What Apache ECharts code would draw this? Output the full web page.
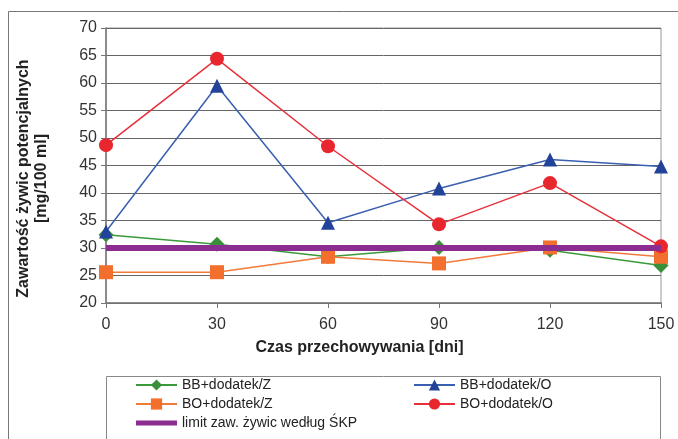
<!DOCTYPE html>
<html><head><meta charset="utf-8">
<script src="https://cdn.jsdelivr.net/npm/echarts@6/dist/echarts.min.js"></script>
<style>html,body{margin:0;padding:0;background:#fff}#c{width:678px;height:439px}</style>
</head><body><div id="c"></div>
<script>
var days = [0, 30, 60, 90, 120, 150];
var bbZ = [32.4, 30.7, 28.4, 30.1, 29.6, 26.8];
var bbO = [33.0, 59.5, 34.6, 40.8, 46.1, 44.8];
var boZ = [25.6, 25.6, 28.4, 27.2, 30.1, 28.4];
var boO = [48.7, 64.4, 48.5, 34.3, 41.8, 30.3];
var limitX = [0, 150];
var limitY = [30, 30];
var names = ['BB+dodatek/Z', 'BB+dodatek/O', 'BO+dodatek/Z', 'BO+dodatek/O', 'limit zaw. żywic według ŚKP'];
var yTicks = {min: 20, max: 70, step: 5};
var xTicks = {min: 0, max: 150, step: 30};

function pairs(xs, ys){ return xs.map(function(x,i){return [x, ys[i]];}); }

var font = 'Liberation Sans, Arial, sans-serif';
var chart = echarts.init(document.getElementById('c'));
var legText = {fontFamily: font, fontSize: 14, color: '#222'};
chart.setOption({
  animation: false,
  backgroundColor: '#fff',
  graphic: [
    {type: 'rect', shape: {x: 8.5, y: 11.5, width: 700, height: 460}, style: {fill: 'none', stroke: '#777', lineWidth: 1}, z: -10},
    {type: 'rect', shape: {x: 106.5, y: 376.5, width: 554, height: 100}, style: {fill: 'none', stroke: '#888', lineWidth: 1}, z: -9}
  ],
  grid: {left: 106, right: 17, top: 28, bottom: 136, show: true, borderColor: '#999', borderWidth: 1, backgroundColor: '#fff'},
  legend: [
    {orient: 'vertical', left: 135, top: 378, padding: 0, itemWidth: 41, itemHeight: 14, itemGap: 5, textStyle: legText,
     data: [names[0], names[2], {name: names[4], icon: 'path://M0,0H41V5H0Z'}]},
    {orient: 'vertical', left: 413, top: 378, padding: 0, itemWidth: 41, itemHeight: 14, itemGap: 5, textStyle: legText,
     data: [names[1], names[3]]}
  ],
  xAxis: {
    type: 'value', min: xTicks.min, max: xTicks.max, interval: xTicks.step,
    name: 'Czas przechowywania [dni]', nameLocation: 'middle', nameGap: 37,
    nameTextStyle: {fontFamily: font, fontSize: 16, fontWeight: 'bold', color: '#222', padding: [0, 48, 0, 0]},
    axisLine: {show: true, lineStyle: {color: '#777', width: 1.5}},
    axisTick: {show: true, length: 5, lineStyle: {color: '#777'}},
    axisLabel: {fontFamily: font, fontSize: 16, color: '#333', margin: 14},
    splitLine: {show: false}
  },
  yAxis: {
    type: 'value', min: yTicks.min, max: yTicks.max, interval: yTicks.step,
    name: 'Zawartość żywic potencjalnych\n[mg/100 ml]', nameLocation: 'middle', nameGap: 55,
    nameTextStyle: {fontFamily: font, fontSize: 16, fontWeight: 'bold', color: '#222', lineHeight: 18, padding: [0, 26, 0, 0]},
    axisLine: {show: true, lineStyle: {color: '#777', width: 1.5}},
    axisTick: {show: true, length: 5, lineStyle: {color: '#777'}},
    axisLabel: {fontFamily: font, fontSize: 16, color: '#333', margin: 9},
    splitLine: {show: true, lineStyle: {color: '#666', width: 1}}
  },
  series: [
    {name: names[0], type: 'line', data: pairs(days, bbZ), symbol: 'diamond', symbolSize: 15,
     lineStyle: {color: '#3a9a3a', width: 1.5}, itemStyle: {color: '#3a8f3a'}, z: 3},
    {name: names[1], type: 'line', data: pairs(days, bbO), symbol: 'triangle', symbolSize: 14,
     lineStyle: {color: '#3a5fb0', width: 1.5}, itemStyle: {color: '#23429a'}, z: 3},
    {name: names[2], type: 'line', data: pairs(days, boZ), symbol: 'rect', symbolSize: 14,
     lineStyle: {color: '#f07a3a', width: 1.5}, itemStyle: {color: '#f26f2e'}, z: 4},
    {name: names[3], type: 'line', data: pairs(days, boO), symbol: 'circle', symbolSize: 14,
     lineStyle: {color: '#e8303a', width: 1.5}, itemStyle: {color: '#e8262e'}, z: 4},
    {name: names[4], type: 'line', data: pairs(limitX, limitY), symbol: 'none',
     lineStyle: {color: '#8a2c90', width: 6}, itemStyle: {color: '#8a2c90'}, z: 5}
  ]
});
</script></body></html>
